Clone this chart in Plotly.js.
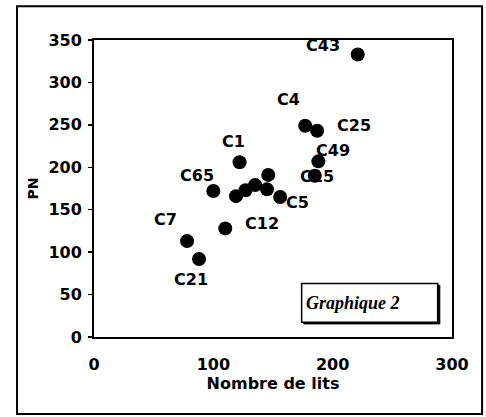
<!DOCTYPE html>
<html>
<head>
<meta charset="utf-8">
<script src="https://cdn.plot.ly/plotly-3.0.1.min.js"></script>
<style>
html,body{margin:0;padding:0;background:#fff;}
#chart{width:486px;height:417px;}
</style>
</head>
<body>
<div id="chart"></div>
<script>
// Data
const names = ["C43","C4","C25","C49","C15","C1","C65","C7","C21","C12","","","","","","C5"];
const lits  = [221, 177, 187, 188, 185, 122, 100, 78, 88, 110, 119, 127, 135, 146, 145, 156];
const pn    = [333, 249, 243, 207, 190, 206, 172, 113, 92, 128, 166, 173, 179, 191, 174, 165];
const xTicks = [0, 100, 200, 300];
const yTicks = [0, 50, 100, 150, 200, 250, 300, 350];

// label offsets in pixels (style, not data)
const labelDx = [-35, -17, 37, 15, 2, -6, -16, -22, -8, 37, 0, 0, 0, 0, 0, 17];
const labelDy = [-9, -26, -5, -11, 1, -21, -16, -22, 21, -5, 0, 0, 0, 0, 0, 6];

const tickFont = {family: "DejaVu Sans", size: 16, color: "#000", weight: "bold"};

const annotations = [];
names.forEach((n, i) => {
  if (!n) return;
  annotations.push({
    x: lits[i], y: pn[i], xref: "x", yref: "y",
    text: n, showarrow: true, arrowhead: 0, arrowwidth: 0.1,
    arrowcolor: "rgba(0,0,0,0)", ax: labelDx[i], ay: labelDy[i],
    font: {family: "DejaVu Sans", size: 16, color: "#000", weight: "bold"}
  });
});
annotations.push({
  xref: "paper", yref: "paper", x: 0.587, y: 0.113,
  xanchor: "left", yanchor: "middle", showarrow: false,
  text: "<i>Graphique 2</i>",
  font: {family: "Liberation Serif", size: 18, color: "#000", weight: "bold"}
});
annotations.push({
  xref: "paper", yref: "paper", x: -0.173, y: 0.5,
  xanchor: "center", yanchor: "middle", showarrow: false,
  text: "PN", textangle: -90,
  font: {family: "DejaVu Sans", size: 14, color: "#000", weight: "bold"}
});

const trace = {
  x: lits, y: pn, text: names, type: "scatter", mode: "markers",
  marker: {color: "#000", size: 14},
  hoverinfo: "text+x+y"
};

const layout = {
  width: 486, height: 417,
  margin: {l: 94, r: 34, t: 40, b: 80},
  paper_bgcolor: "#fff", plot_bgcolor: "#fff",
  showlegend: false,
  xaxis: {
    range: [0, 300], tickvals: xTicks, ticktext: xTicks.map(String),
    showgrid: false, zeroline: false, showline: true, mirror: true,
    linecolor: "#000", linewidth: 2, ticks: "", tickfont: tickFont,
    ticklabelstandoff: 12,
    title: {text: "Nombre de lits", font: {family: "DejaVu Sans", size: 16, color: "#000", weight: "bold"}, standoff: 0}
  },
  yaxis: {
    range: [0, 350], tickvals: yTicks, ticktext: yTicks.map(String),
    showgrid: false, zeroline: false, showline: true, mirror: true,
    linecolor: "#000", linewidth: 2, ticks: "outside", ticklen: 4,
    tickcolor: "#000", tickwidth: 1.5, tickfont: tickFont,
    ticklabelstandoff: 3
  },
  shapes: [
    {type: "rect", xref: "paper", yref: "paper",
     x0: -0.215, x1: 1.084, y0: -0.259, y1: 1.114,
     line: {color: "#000", width: 2}},
    {type: "rect", xref: "paper", yref: "paper",
     x0: 0.586, x1: 0.966, y0: 0.044, y1: 0.174,
     fillcolor: "#000", line: {color: "#000", width: 1}},
    {type: "rect", xref: "paper", yref: "paper",
     x0: 0.58, x1: 0.96, y0: 0.05, y1: 0.18,
     fillcolor: "#fff", line: {color: "#000", width: 1.5}}
  ],
  annotations: annotations
};

Plotly.newPlot("chart", [trace], layout, {displayModeBar: false, staticPlot: true});
</script>
</body>
</html>
